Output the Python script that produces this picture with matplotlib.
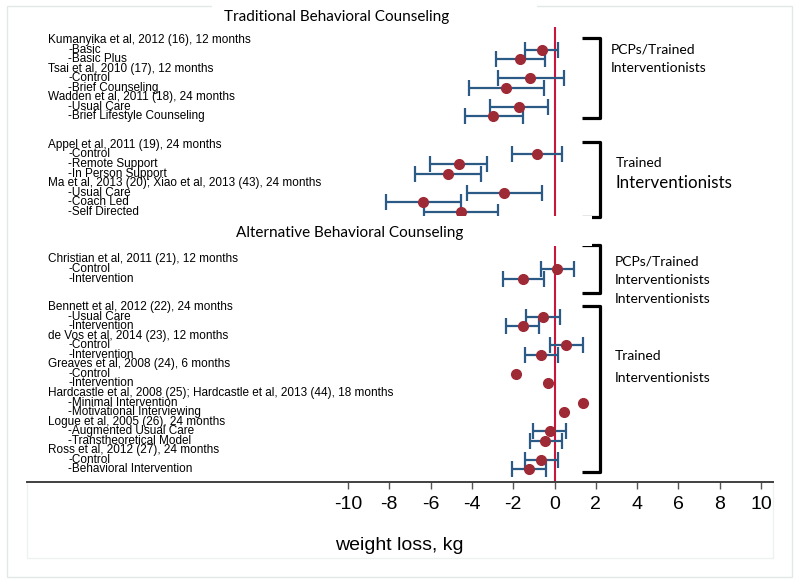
import numpy as np
import matplotlib.pyplot as plt
from matplotlib.patches import Rectangle
from matplotlib.lines import Line2D

# Rows of the forest plot (headers and blank rows have no estimate)
row_labels = [
    "Kumanyika et al, 2012 (16), 12 months", "-Basic", "-Basic Plus",
    "Tsai et al, 2010 (17), 12 months", "-Control", "-Brief Counseling",
    "Wadden et al, 2011 (18), 24 months", "-Usual Care", "-Brief Lifestyle Counseling",
    "", "",
    "Appel et al, 2011 (19), 24 months", "-Control", "-Remote Support", "-In Person Support",
    "Ma et al, 2013 (20); Xiao et al, 2013 (43), 24 months", "-Usual Care", "-Coach Led", "-Self Directed",
    "", "", "", "",
    "Christian et al, 2011 (21), 12 months", "-Control", "-Intervention",
    "", "",
    "Bennett et al, 2012 (22), 24 months", "-Usual Care", "-Intervention",
    "de Vos et al, 2014 (23), 12 months", "-Control", "-Intervention",
    "Greaves et al, 2008 (24), 6 months", "-Control", "-Intervention",
    "Hardcastle et al, 2008 (25); Hardcastle et al, 2013 (44), 18 months",
    "-Minimal Intervention", "-Motivational Interviewing",
    "Logue et al, 2005 (26), 24 months", "-Augmented Usual Care", "-Transtheoretical Model",
    "Ross et al, 2012 (27), 24 months", "-Control", "-Behavioral Intervention",
]
nan = np.nan
estimate = [nan, -0.62, -1.65, nan, -1.17, -2.35, nan, -1.73, -2.96,
            nan, nan,
            nan, -0.84, -4.64, -5.16, nan, -2.44, -6.36, -4.53,
            nan, nan, nan, nan,
            nan, 0.14, -1.53,
            nan, nan,
            nan, -0.57, -1.53, nan, 0.56, -0.63, nan, -1.85, -0.32,
            nan, 1.37, 0.44, nan, -0.22, -0.44, nan, -0.63, -1.24]
ci_low = [nan, -1.42, -2.82, nan, -2.73, -4.16, nan, -3.14, -4.32,
          nan, nan,
          nan, -2.04, -6.03, -6.75, nan, -4.24, -8.14, -6.34,
          nan, nan, nan, nan,
          nan, -0.66, -2.50,
          nan, nan,
          nan, -1.36, -2.34, nan, -0.22, -1.44, nan, nan, nan,
          nan, nan, nan, nan, -1.03, -1.20, nan, -1.44, -2.05]
ci_high = [nan, 0.16, -0.45, nan, 0.45, -0.53, nan, -0.32, -1.52,
           nan, nan,
           nan, 0.37, -3.25, -3.56, nan, -0.62, -4.55, -2.75,
           nan, nan, nan, nan,
           nan, 0.92, -0.51,
           nan, nan,
           nan, 0.27, -0.74, nan, 1.37, 0.16, nan, nan, nan,
           nan, nan, nan, nan, 0.56, 0.37, nan, 0.16, -0.42]
xticks = list(range(-10, 11, 2))

# bracket groups on the right: (top row, bottom row) and their labels
brackets = [(-0.2, 8.15), (10.7, 18.5), (21.5, 26.55), (27.85, 45.3)]
bracket_texts = [
    ("PCPs/Trained", 0.95, 10, 0.783), ("Interventionists", 2.9, 10, 0.783),
    ("Trained", 12.86, 10, 0.789), ("Interventionists", 15.0, 12.2, 0.789),
    ("PCPs/Trained", 23.24, 10, 0.788), ("Interventionists", 25.2, 10, 0.788),
    ("Interventionists", 27.15, 10, 0.788),
    ("Trained", 33.1, 10, 0.788), ("Interventionists", 35.4, 10, 0.788),
]

W, H = 800, 587
fig = plt.figure(figsize=(W / 100, H / 100), dpi=100)
fig.patch.set_facecolor("white")

# faint outer frame
fig.add_artist(Rectangle((7 / W, 1 - 577 / H), 785 / W, 571 / H, transform=fig.transFigure,
                         fill=False, edgecolor="#e2e8e8", lw=1.0, zorder=0))
# faint box below the axis
fig.add_artist(Line2D([27 / W, 27 / W, 773 / W, 773 / W], [1 - 482 / H, 1 - 558 / H, 1 - 558 / H, 1 - 482 / H],
                      transform=fig.transFigure, color="#edf1f1", lw=1.0, zorder=0))

ax = fig.add_axes([27 / W, 1 - 482.3 / H, 746 / W, 455.3 / H])
ax.set_xlim(-25.545, 10.581)
ax.set_ylim(46.36, -1.363)
ax.patch.set_alpha(0)

rows = np.arange(len(row_labels))
est = np.array(estimate)
lo = np.array(ci_low)
hi = np.array(ci_high)

ax.axvline(0, color="#c8163c", lw=1.5, zorder=1)

has_ci = ~np.isnan(lo)
ax.errorbar(est[has_ci], rows[has_ci], xerr=[est[has_ci] - lo[has_ci], hi[has_ci] - est[has_ci]],
            fmt="none", ecolor="#2b5a87", elinewidth=1.6, capsize=5.5, capthick=1.6, zorder=2)
ax.plot(est, rows, "o", color="#9e2a36", ms=7, zorder=3, ls="none")

# row labels
ytr = ax.get_yaxis_transform()
for i, lab in enumerate(row_labels):
    if not lab:
        continue
    xpos = 0.055 if lab.startswith("-") else 0.0282
    ax.text(xpos, i, lab, transform=ytr, ha="left", va="center",
            fontsize=8.5, family="Liberation Sans", color="black", zorder=4)

# brackets
for top, bot in brackets:
    ax.plot([0.744, 0.768, 0.768, 0.744], [top, top, bot, bot], transform=ytr,
            color="black", lw=2.3, solid_joinstyle="round", solid_capstyle="butt",
            clip_on=False, zorder=4)
for txt, r, fs, xpos in bracket_texts:
    ax.text(xpos, r, txt, transform=ytr, ha="left", va="center", fontsize=fs,
            family="Lato", color="black")

# white boxes behind section titles
ax.add_patch(Rectangle((0.258, 18.45), 0.5, 3.15, transform=ytr, facecolor="white",
                       edgecolor="none", zorder=5))
ax.text(0.433, 20.2, "Alternative Behavioral Counseling", transform=ytr, ha="center", va="center",
        fontsize=11, family="Lato", zorder=6)
fig.add_artist(Rectangle((212 / W, 1 - 26 / H), 325 / W, 26 / H, transform=fig.transFigure,
                         facecolor="white", edgecolor="none", zorder=1))
fig.text(337 / W, 1 - 17 / H, "Traditional Behavioral Counseling", ha="center", va="center",
         fontsize=11, family="Lato", zorder=2)

# axis styling
for s in ["top", "left", "right"]:
    ax.spines[s].set_visible(False)
ax.spines["bottom"].set_color("#404040")
ax.spines["bottom"].set_linewidth(1.4)
ax.set_yticks([])
ax.set_xticks(xticks)
ax.set_xticklabels([str(t) for t in xticks], family="Liberation Sans", fontsize=14)
ax.tick_params(axis="x", direction="out", length=5, width=1, color="#555555", pad=5)
fig.text(335 / W, 1 - 545 / H, "weight loss, kg", ha="left", va="center",
         fontsize=14, family="Liberation Sans")

fig.savefig("out.png", dpi=100)
